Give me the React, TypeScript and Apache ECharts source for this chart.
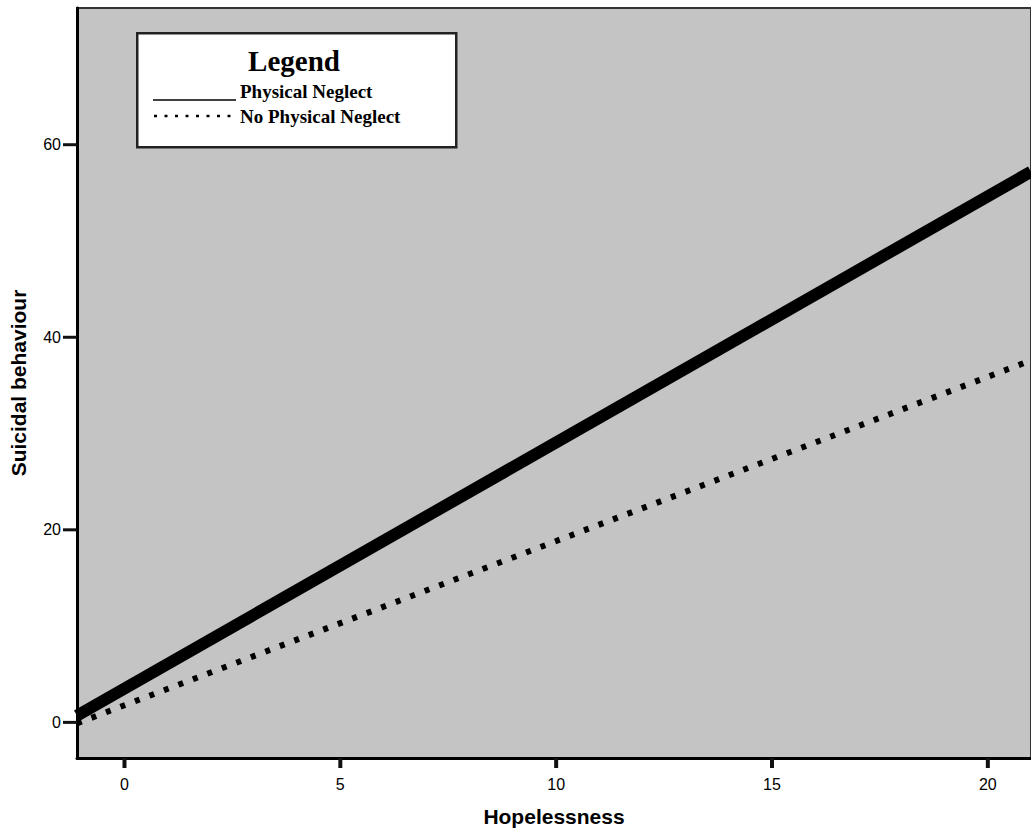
import React, { useEffect, useRef } from "react";
import * as echarts from "echarts";

const xRange = [-1.1, 21];
const yRange = [-3.7, 74.2];
const xTicks = [0, 5, 10, 15, 20];
const yTicks = [0, 20, 40, 60];
const lineX = [-1.1, 21];
const physicalNeglect = [0.7, 57.2];
const noPhysicalNeglect = [-0.1, 37.6];
const seriesNames = ["Physical Neglect", "No Physical Neglect"];

export default function App() {
  const ref = useRef<HTMLDivElement>(null);
  useEffect(() => {
    document.body.style.margin = "0";
    const chart = echarts.init(ref.current!, null, { renderer: "svg" });
    const sans = "'Liberation Sans', Arial, sans-serif";
    const serif = "'Liberation Serif', 'Times New Roman', serif";
    const legendGraphics: any[] = [
      {
        type: "rect",
        left: 136,
        top: 32,
        shape: { width: 319, height: 114 },
        style: { fill: "#ffffff", stroke: "#222", lineWidth: 2.5 },
      },
      {
        type: "text",
        x: 294,
        y: 61,
        style: { text: "Legend", font: `bold 29px ${serif}`, fill: "#000", align: "center", verticalAlign: "middle" },
      },
      {
        type: "line",
        shape: { x1: 153, y1: 100, x2: 236, y2: 100 },
        style: { stroke: "#000", lineWidth: 1.5 },
      },
      {
        type: "text",
        x: 240,
        y: 91,
        style: { text: seriesNames[0], font: `bold 19px ${serif}`, fill: "#000", align: "left", verticalAlign: "middle" },
      },
      {
        type: "line",
        shape: { x1: 154, y1: 116, x2: 234, y2: 116 },
        style: { stroke: "#000", lineWidth: 2.5, lineDash: [3, 7.5] },
      },
      {
        type: "text",
        x: 240,
        y: 116,
        style: { text: seriesNames[1], font: `bold 19px ${serif}`, fill: "#000", align: "left", verticalAlign: "middle" },
      },
    ];
    chart.setOption({
      animation: false,
      backgroundColor: "#ffffff",
      grid: {
        left: 75,
        top: 8,
        right: 0,
        bottom: 78,
        show: true,
        backgroundColor: "#c4c4c4",
        borderColor: "#333333",
        borderWidth: 2,
      },
      xAxis: {
        type: "value",
        min: xRange[0],
        max: xRange[1],
        name: "Hopelessness",
        nameLocation: "middle",
        nameGap: 48,
        nameTextStyle: { fontFamily: sans, fontWeight: "bold", fontSize: 21, color: "#000" },
        axisLine: { show: true, onZero: false, lineStyle: { color: "#000", width: 3 } },
        axisTick: { show: false },
        axisLabel: { customValues: xTicks, margin: 18, fontFamily: sans, fontSize: 16, color: "#000" },
        splitLine: { show: false },
      },
      yAxis: {
        type: "value",
        min: yRange[0],
        max: yRange[1],
        name: "Suicidal behaviour",
        nameLocation: "middle",
        nameGap: 48,
        nameTextStyle: { fontFamily: sans, fontWeight: "bold", fontSize: 21, color: "#000" },
        axisLine: { show: true, onZero: false, lineStyle: { color: "#000", width: 3 } },
        axisTick: { show: false },
        axisLabel: { customValues: yTicks, margin: 16, fontFamily: sans, fontSize: 16, color: "#000" },
        splitLine: { show: false },
      },
      series: [
        {
          name: seriesNames[0],
          type: "line",
          data: lineX.map((x, i) => [x, physicalNeglect[i]]),
          showSymbol: false,
          lineStyle: { color: "#000", width: 12, type: "solid" },
        },
        {
          name: seriesNames[1],
          type: "line",
          data: lineX.map((x, i) => [x, noPhysicalNeglect[i]]),
          showSymbol: false,
          lineStyle: { color: "#000", width: 6, type: [5, 10.5] },
        },
        {
          name: "xTickMarks",
          type: "custom",
          clip: false,
          silent: true,
          z: 10,
          data: xTicks.map((v) => [v, yRange[0]]),
          renderItem: (params: any, api: any) => {
            const p = api.coord([api.value(0), api.value(1)]);
            return {
              type: "rect",
              shape: { x: p[0] - 2, y: p[1], width: 4, height: 10 },
              style: { fill: "#111111" },
            };
          },
        },
        {
          name: "yTickMarks",
          type: "custom",
          clip: false,
          silent: true,
          z: 10,
          data: yTicks.map((v) => [xRange[0], v]),
          renderItem: (params: any, api: any) => {
            const p = api.coord([api.value(0), api.value(1)]);
            return {
              type: "rect",
              shape: { x: p[0] - 14, y: p[1] - 1.5, width: 14, height: 3 },
              style: { fill: "#111111" },
            };
          },
        },
      ],
      graphic: legendGraphics,
    });
    return () => chart.dispose();
  }, []);
  return <div ref={ref} style={{ width: 1031, height: 836 }} />;
}
